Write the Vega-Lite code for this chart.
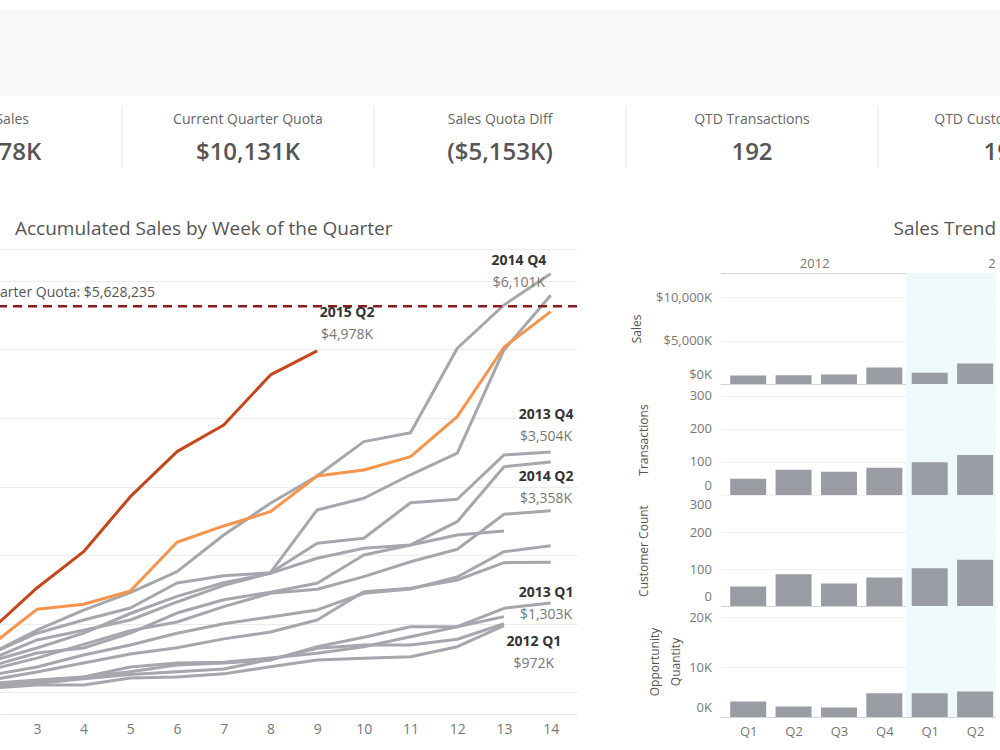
{
  "$schema": "https://vega.github.io/schema/vega-lite/v6.json",
  "padding": {"left": 0, "top": 10, "right": 0, "bottom": 0},
  "background": "white",
  "spacing": 53,
  "resolve": {"scale": {"x": "independent", "y": "independent"}},
  "datasets": {
    "kpis": [
      {"title": "QTD Sales", "value": "$4,978K"},
      {"title": "Current Quarter Quota", "value": "$10,131K"},
      {"title": "Sales Quota Diff", "value": "($5,153K)"},
      {"title": "QTD Transactions", "value": "192"},
      {"title": "QTD Customer Count", "value": "190"}
    ],
    "lines": [
      {"q":"2012 Q1","week":1,"sales":30},{"q":"2012 Q1","week":2,"sales":60},{"q":"2012 Q1","week":3,"sales":108},{"q":"2012 Q1","week":4,"sales":108},{"q":"2012 Q1","week":5,"sales":210},{"q":"2012 Q1","week":6,"sales":225},{"q":"2012 Q1","week":7,"sales":270},{"q":"2012 Q1","week":8,"sales":375},{"q":"2012 Q1","week":9,"sales":472},{"q":"2012 Q1","week":10,"sales":497},{"q":"2012 Q1","week":11,"sales":520},{"q":"2012 Q1","week":12,"sales":666},{"q":"2012 Q1","week":13,"sales":972},
      {"q":"2012 Q2","week":1,"sales":40},{"q":"2012 Q2","week":2,"sales":90},{"q":"2012 Q2","week":3,"sales":130},{"q":"2012 Q2","week":4,"sales":200},{"q":"2012 Q2","week":5,"sales":260},{"q":"2012 Q2","week":6,"sales":300},{"q":"2012 Q2","week":7,"sales":340},{"q":"2012 Q2","week":8,"sales":480},{"q":"2012 Q2","week":9,"sales":643},{"q":"2012 Q2","week":10,"sales":691},{"q":"2012 Q2","week":11,"sales":691},{"q":"2012 Q2","week":12,"sales":774},{"q":"2012 Q2","week":13,"sales":1000},
      {"q":"2012 Q3","week":1,"sales":50},{"q":"2012 Q3","week":2,"sales":100},{"q":"2012 Q3","week":3,"sales":150},{"q":"2012 Q3","week":4,"sales":225},{"q":"2012 Q3","week":5,"sales":370},{"q":"2012 Q3","week":6,"sales":428},{"q":"2012 Q3","week":7,"sales":440},{"q":"2012 Q3","week":8,"sales":500},{"q":"2012 Q3","week":9,"sales":570},{"q":"2012 Q3","week":10,"sales":666},{"q":"2012 Q3","week":11,"sales":812},{"q":"2012 Q3","week":12,"sales":958},{"q":"2012 Q3","week":13,"sales":1104},
      {"q":"2012 Q4","week":1,"sales":80},{"q":"2012 Q4","week":2,"sales":180},{"q":"2012 Q4","week":3,"sales":297},{"q":"2012 Q4","week":4,"sales":428},{"q":"2012 Q4","week":5,"sales":560},{"q":"2012 Q4","week":6,"sales":650},{"q":"2012 Q4","week":7,"sales":780},{"q":"2012 Q4","week":8,"sales":880},{"q":"2012 Q4","week":9,"sales":1055},{"q":"2012 Q4","week":10,"sales":1468},{"q":"2012 Q4","week":11,"sales":1517},{"q":"2012 Q4","week":12,"sales":1638},{"q":"2012 Q4","week":13,"sales":1891},{"q":"2012 Q4","week":14,"sales":1897},
      {"q":"2013 Q1","week":1,"sales":60},{"q":"2013 Q1","week":2,"sales":130},{"q":"2013 Q1","week":3,"sales":180},{"q":"2013 Q1","week":4,"sales":225},{"q":"2013 Q1","week":5,"sales":300},{"q":"2013 Q1","week":6,"sales":400},{"q":"2013 Q1","week":7,"sales":430},{"q":"2013 Q1","week":8,"sales":470},{"q":"2013 Q1","week":9,"sales":666},{"q":"2013 Q1","week":10,"sales":803},{"q":"2013 Q1","week":11,"sales":958},{"q":"2013 Q1","week":12,"sales":958},{"q":"2013 Q1","week":13,"sales":1226},{"q":"2013 Q1","week":14,"sales":1303},
      {"q":"2013 Q2","week":1,"sales":220},{"q":"2013 Q2","week":2,"sales":450},{"q":"2013 Q2","week":3,"sales":647},{"q":"2013 Q2","week":4,"sales":863},{"q":"2013 Q2","week":5,"sales":1150},{"q":"2013 Q2","week":6,"sales":1400},{"q":"2013 Q2","week":7,"sales":1600},{"q":"2013 Q2","week":8,"sales":1735},{"q":"2013 Q2","week":9,"sales":1955},{"q":"2013 Q2","week":10,"sales":2100},{"q":"2013 Q2","week":11,"sales":2149},{"q":"2013 Q2","week":12,"sales":2294},{"q":"2013 Q2","week":13,"sales":2353},
      {"q":"2013 Q3","week":1,"sales":120},{"q":"2013 Q3","week":2,"sales":250},{"q":"2013 Q3","week":3,"sales":370},{"q":"2013 Q3","week":4,"sales":545},{"q":"2013 Q3","week":5,"sales":691},{"q":"2013 Q3","week":6,"sales":863},{"q":"2013 Q3","week":7,"sales":1000},{"q":"2013 Q3","week":8,"sales":1100},{"q":"2013 Q3","week":9,"sales":1202},{"q":"2013 Q3","week":10,"sales":1445},{"q":"2013 Q3","week":11,"sales":1507},{"q":"2013 Q3","week":12,"sales":1682},{"q":"2013 Q3","week":13,"sales":2051},{"q":"2013 Q3","week":14,"sales":2138},
      {"q":"2013 Q4","week":1,"sales":250},{"q":"2013 Q4","week":2,"sales":480},{"q":"2013 Q4","week":3,"sales":764},{"q":"2013 Q4","week":4,"sales":906},{"q":"2013 Q4","week":5,"sales":1055},{"q":"2013 Q4","week":6,"sales":1318},{"q":"2013 Q4","week":7,"sales":1560},{"q":"2013 Q4","week":8,"sales":1740},{"q":"2013 Q4","week":9,"sales":2173},{"q":"2013 Q4","week":10,"sales":2246},{"q":"2013 Q4","week":11,"sales":2765},{"q":"2013 Q4","week":12,"sales":2815},{"q":"2013 Q4","week":13,"sales":3461},{"q":"2013 Q4","week":14,"sales":3504},
      {"q":"2014 Q1","week":1,"sales":150},{"q":"2014 Q1","week":2,"sales":330},{"q":"2014 Q1","week":3,"sales":500},{"q":"2014 Q1","week":4,"sales":700},{"q":"2014 Q1","week":5,"sales":900},{"q":"2014 Q1","week":6,"sales":1026},{"q":"2014 Q1","week":7,"sales":1250},{"q":"2014 Q1","week":8,"sales":1445},{"q":"2014 Q1","week":9,"sales":1503},{"q":"2014 Q1","week":10,"sales":1687},{"q":"2014 Q1","week":11,"sales":1905},{"q":"2014 Q1","week":12,"sales":2086},{"q":"2014 Q1","week":13,"sales":2596},{"q":"2014 Q1","week":14,"sales":2649},
      {"q":"2014 Q2","week":1,"sales":180},{"q":"2014 Q2","week":2,"sales":380},{"q":"2014 Q2","week":3,"sales":574},{"q":"2014 Q2","week":4,"sales":647},{"q":"2014 Q2","week":5,"sales":863},{"q":"2014 Q2","week":6,"sales":1157},{"q":"2014 Q2","week":7,"sales":1350},{"q":"2014 Q2","week":8,"sales":1460},{"q":"2014 Q2","week":9,"sales":1590},{"q":"2014 Q2","week":10,"sales":2003},{"q":"2014 Q2","week":11,"sales":2149},{"q":"2014 Q2","week":12,"sales":2488},{"q":"2014 Q2","week":13,"sales":3290},{"q":"2014 Q2","week":14,"sales":3358},
      {"q":"2014 Q3","week":1,"sales":280},{"q":"2014 Q3","week":2,"sales":560},{"q":"2014 Q3","week":3,"sales":863},{"q":"2014 Q3","week":4,"sales":1055},{"q":"2014 Q3","week":5,"sales":1230},{"q":"2014 Q3","week":6,"sales":1595},{"q":"2014 Q3","week":7,"sales":1700},{"q":"2014 Q3","week":8,"sales":1745},{"q":"2014 Q3","week":9,"sales":2659},{"q":"2014 Q3","week":10,"sales":2830},{"q":"2014 Q3","week":11,"sales":3172},{"q":"2014 Q3","week":12,"sales":3488},{"q":"2014 Q3","week":13,"sales":4991},{"q":"2014 Q3","week":14,"sales":5790},
      {"q":"2014 Q4","week":1,"sales":250},{"q":"2014 Q4","week":2,"sales":560},{"q":"2014 Q4","week":3,"sales":906},{"q":"2014 Q4","week":4,"sales":1200},{"q":"2014 Q4","week":5,"sales":1453},{"q":"2014 Q4","week":6,"sales":1760},{"q":"2014 Q4","week":7,"sales":2294},{"q":"2014 Q4","week":8,"sales":2757},{"q":"2014 Q4","week":9,"sales":3155},{"q":"2014 Q4","week":10,"sales":3655},{"q":"2014 Q4","week":11,"sales":3786},{"q":"2014 Q4","week":12,"sales":5016},{"q":"2014 Q4","week":13,"sales":5647},{"q":"2014 Q4","week":14,"sales":6101},
      {"q":"2015 Q1","week":1,"sales":300},{"q":"2015 Q1","week":2,"sales":677},{"q":"2015 Q1","week":3,"sales":1211},{"q":"2015 Q1","week":4,"sales":1284},{"q":"2015 Q1","week":5,"sales":1478},{"q":"2015 Q1","week":6,"sales":2188},{"q":"2015 Q1","week":7,"sales":2426},{"q":"2015 Q1","week":8,"sales":2634},{"q":"2015 Q1","week":9,"sales":3155},{"q":"2015 Q1","week":10,"sales":3242},{"q":"2015 Q1","week":11,"sales":3436},{"q":"2015 Q1","week":12,"sales":4019},{"q":"2015 Q1","week":13,"sales":5031},{"q":"2015 Q1","week":14,"sales":5550},
      {"q":"2015 Q2","week":1,"sales":400},{"q":"2015 Q2","week":2,"sales":900},{"q":"2015 Q2","week":3,"sales":1522},{"q":"2015 Q2","week":4,"sales":2051},{"q":"2015 Q2","week":5,"sales":2853},{"q":"2015 Q2","week":6,"sales":3509},{"q":"2015 Q2","week":7,"sales":3898},{"q":"2015 Q2","week":8,"sales":4627},{"q":"2015 Q2","week":9,"sales":4978}
    ],
    "labels": [
      {"q": "2014 Q4", "wk": 13.32, "amt": 6121, "total": "$6,101K"},
      {"q": "2015 Q2", "wk": 9.64, "amt": 5370, "total": "$4,978K"},
      {"q": "2013 Q4", "wk": 13.9, "amt": 3883, "total": "$3,504K"},
      {"q": "2014 Q2", "wk": 13.9, "amt": 2980, "total": "$3,358K"},
      {"q": "2013 Q1", "wk": 13.9, "amt": 1287, "total": "$1,303K"},
      {"q": "2012 Q1", "wk": 13.64, "amt": 573, "total": "$972K"}
    ],
    "quota": [{"quota": 5628.235, "label": "Current Quarter Quota: $5,628,235"}],
    "qtr": [
      {"qtr": "2012 Q1", "qi": 0, "year": "2012", "sales": 972, "trans": 49, "cust": 53, "opp": 3090},
      {"qtr": "2012 Q2", "qi": 1, "year": "2012", "sales": 1000, "trans": 76, "cust": 86, "opp": 2090},
      {"qtr": "2012 Q3", "qi": 2, "year": "2012", "sales": 1104, "trans": 70, "cust": 61, "opp": 1890},
      {"qtr": "2012 Q4", "qi": 3, "year": "2012", "sales": 1897, "trans": 82, "cust": 77, "opp": 4740},
      {"qtr": "2013 Q1", "qi": 4, "year": "2013", "sales": 1303, "trans": 99, "cust": 102, "opp": 4740},
      {"qtr": "2013 Q2", "qi": 5, "year": "2013", "sales": 2353, "trans": 121, "cust": 125, "opp": 5080},
      {"qtr": "2013 Q3", "qi": 6, "year": "2013", "sales": null, "trans": null, "cust": null, "opp": null},
      {"qtr": "2013 Q4", "qi": 7, "year": "2013", "sales": null, "trans": null, "cust": null, "opp": null}
    ]
  },
  "vconcat": [
    {
      "spacing": 11,
      "resolve": {"scale": {"x": "independent", "y": "independent"}},
      "vconcat": [
        {
          "width": 1000, "height": 86,
          "view": {"fill": "#f8f8f8", "stroke": null},
          "data": {"values": [{"k": 1}]},
          "mark": {"type": "text", "text": ""},
          "encoding": {}
        },
        {
          "width": 1000, "height": 60,
          "data": {"name": "kpis"},
          "encoding": {
            "x": {"field": "title", "type": "nominal", "sort": null,
                  "scale": {"type": "band", "range": [-130, 1130], "paddingInner": 0, "paddingOuter": 0},
                  "axis": null}
          },
          "layer": [
            {"mark": {"type": "rule", "color": "#e6e6e6", "strokeWidth": 1, "clip": true},
             "encoding": {"x": {"field": "title", "type": "nominal", "sort": null, "bandPosition": 0, "axis": null}}},
            {"mark": {"type": "text", "fontSize": 14, "color": "#666", "dy": -17, "clip": true},
             "encoding": {"text": {"field": "title", "type": "nominal"}}},
            {"mark": {"type": "text", "fontSize": 24, "fontWeight": 600, "color": "#555", "dy": 16, "clip": true},
             "encoding": {"text": {"field": "value", "type": "nominal"}}}
          ]
        }
      ]
    },
    {
      "spacing": 53.5,
      "resolve": {"scale": {"x": "independent", "y": "independent"}},
      "hconcat": [
        {
          "width": 577, "height": 465,
          "title": {"text": "Accumulated Sales by Week of the Quarter", "dx": 15},
          "layer": [
            {
              "data": {"name": "lines"},
              "mark": {"type": "line", "strokeWidth": 3, "clip": true, "strokeJoin": "round"},
              "encoding": {
                "x": {"field": "week", "type": "quantitative",
                      "scale": {"domain": [2.21, 14.563], "nice": false, "zero": false},
                      "axis": {"values": [3,4,5,6,7,8,9,10,11,12,13,14], "title": null, "grid": false, "ticks": false,
                               "domainColor": "#e3e3e3", "labelColor": "#777", "labelFontSize": 14, "labelPadding": 8, "labelFlush": false}},
                "y": {"field": "sales", "type": "quantitative",
                      "scale": {"domain": [-315, 6463], "nice": false, "zero": false},
                      "axis": {"values": [0,1000,2000,3000,4000,5000,6000,6463], "labels": false, "ticks": false, "domain": false,
                               "title": null, "gridColor": "#ececec"}},
                "color": {"field": "q", "type": "nominal", "legend": null,
                          "scale": {"domain": ["2012 Q1","2012 Q2","2012 Q3","2012 Q4","2013 Q1","2013 Q2","2013 Q3","2013 Q4","2014 Q1","2014 Q2","2014 Q3","2014 Q4","2015 Q1","2015 Q2"],
                                    "range": ["#a5a7ad","#a5a7ad","#a5a7ad","#a5a7ad","#a5a7ad","#a5a7ad","#a5a7ad","#a5a7ad","#a5a7ad","#a5a7ad","#a5a7ad","#a5a7ad","#f5944c","#c4461a"]}}
              }
            },
            {
              "data": {"name": "quota"},
              "mark": {"type": "rule", "color": "#8e1b1b", "strokeWidth": 2.5, "strokeDash": [9, 6], "clip": true},
              "encoding": {"y": {"field": "quota", "type": "quantitative"}}
            },
            {
              "data": {"name": "quota"},
              "mark": {"type": "text", "align": "left", "fontSize": 14, "color": "#555", "dy": -13, "clip": true},
              "encoding": {
                "x": {"datum": 0.64},
                "y": {"field": "quota", "type": "quantitative"},
                "text": {"field": "label", "type": "nominal"}
              }
            },
            {
              "data": {"name": "labels"},
              "mark": {"type": "text", "fontSize": 14, "fontWeight": "bold", "color": "#333", "dy": -11},
              "encoding": {
                "x": {"field": "wk", "type": "quantitative"},
                "y": {"field": "amt", "type": "quantitative"},
                "text": {"field": "q", "type": "nominal"}
              }
            },
            {
              "data": {"name": "labels"},
              "mark": {"type": "text", "fontSize": 14, "color": "#777", "dy": 11},
              "encoding": {
                "x": {"field": "wk", "type": "quantitative"},
                "y": {"field": "amt", "type": "quantitative"},
                "text": {"field": "total", "type": "nominal"}
              }
            }
          ]
        },
        {
          "title": {"text": "Sales Trend", "dx": 263},
          "spacing": 0,
          "bounds": "flush",
          "resolve": {"scale": {"x": "independent", "y": "independent"}},
          "vconcat": [
            {
              "width": 275, "height": 24,
              "data": {"name": "qtr"},
              "mark": {"type": "text", "clip": true, "color": "#777", "fontSize": 13, "dy": 3},
              "encoding": {
                "x": {"aggregate": "mean", "field": "qi", "type": "quantitative",
                      "scale": {"domain": [-0.5, 5.339], "nice": false, "zero": false},
                      "axis": {"title": null, "labels": false, "ticks": false, "grid": false, "domainColor": "#d4d4d4"}},
                "text": {"field": "year", "type": "nominal"}
              }
            },
            {
              "width": 275, "height": 111,
              "data": {"name": "qtr"},
              "layer": [
                {"transform": [{"filter": "datum.year == '2013'"}],
                 "mark": {"type": "rule", "color": "#eef9fc", "strokeWidth": 47.2, "clip": true},
                 "encoding": {"x": {"field": "qi", "type": "quantitative"}}},
                {"mark": {"type": "bar", "color": "#9a9ca3", "width": 36, "orient": "vertical", "clip": true},
                 "encoding": {
                   "x": {"field": "qi", "type": "quantitative",
                         "scale": {"domain": [-0.5, 5.339], "nice": false, "zero": false},
                         "axis": {"labels": false, "ticks": false, "grid": false, "title": null, "domainColor": "#d4d4d4"}},
                   "y": {"field": "sales", "type": "quantitative",
                         "scale": {"domain": [0, 12760], "nice": false},
                         "axis": {"values": [0, 5000, 10000], "labelExpr": "'$' + format(datum.value, ',') + 'K'",
                                  "title": "Sales", "titleX": -84, "titleBaseline": "middle", "titleFontWeight": "normal", "titleFontSize": 12, "titleColor": "#555",
                                  "labelColor": "#777", "labelFontSize": 13, "labelPadding": 9, "ticks": false, "domain": false,
                                  "gridColor": "#f0f0f0", "labelFlush": true, "labelFlushOffset": -3}}
                 }}
              ]
            },
            {
              "width": 275, "height": 111,
              "data": {"name": "qtr"},
              "layer": [
                {"transform": [{"filter": "datum.year == '2013'"}],
                 "mark": {"type": "rule", "color": "#eef9fc", "strokeWidth": 47.2, "clip": true},
                 "encoding": {"x": {"field": "qi", "type": "quantitative"}}},
                {"mark": {"type": "bar", "color": "#9a9ca3", "width": 36, "orient": "vertical", "clip": true},
                 "encoding": {
                   "x": {"field": "qi", "type": "quantitative",
                         "scale": {"domain": [-0.5, 5.339], "nice": false, "zero": false},
                         "axis": {"labels": false, "ticks": false, "grid": false, "title": null, "domainColor": "#d4d4d4"}},
                   "y": {"field": "trans", "type": "quantitative",
                         "scale": {"domain": [0, 335], "nice": false},
                         "axis": {"values": [0, 100, 200, 300],
                                  "title": "Transactions", "titleX": -77, "titleBaseline": "middle", "titleFontWeight": "normal", "titleFontSize": 12, "titleColor": "#555",
                                  "labelColor": "#777", "labelFontSize": 13, "labelPadding": 9, "ticks": false, "domain": false,
                                  "gridColor": "#f0f0f0", "labelFlush": true, "labelFlushOffset": -3}}
                 }}
              ]
            },
            {
              "width": 275, "height": 111,
              "data": {"name": "qtr"},
              "layer": [
                {"transform": [{"filter": "datum.year == '2013'"}],
                 "mark": {"type": "rule", "color": "#eef9fc", "strokeWidth": 47.2, "clip": true},
                 "encoding": {"x": {"field": "qi", "type": "quantitative"}}},
                {"mark": {"type": "bar", "color": "#9a9ca3", "width": 36, "orient": "vertical", "clip": true},
                 "encoding": {
                   "x": {"field": "qi", "type": "quantitative",
                         "scale": {"domain": [-0.5, 5.339], "nice": false, "zero": false},
                         "axis": {"labels": false, "ticks": false, "grid": false, "title": null, "domainColor": "#d4d4d4"}},
                   "y": {"field": "cust", "type": "quantitative",
                         "scale": {"domain": [0, 300], "nice": false},
                         "axis": {"values": [0, 100, 200, 300],
                                  "title": "Customer Count", "titleX": -77, "titleBaseline": "middle", "titleFontWeight": "normal", "titleFontSize": 12, "titleColor": "#555",
                                  "labelColor": "#777", "labelFontSize": 13, "labelPadding": 9, "ticks": false, "domain": false,
                                  "gridColor": "#f0f0f0", "labelFlush": true, "labelFlushOffset": -3}}
                 }}
              ]
            },
            {
              "width": 275, "height": 111,
              "data": {"name": "qtr"},
              "layer": [
                {"transform": [{"filter": "datum.year == '2013'"}],
                 "mark": {"type": "rule", "color": "#eef9fc", "strokeWidth": 47.2, "clip": true},
                 "encoding": {"x": {"field": "qi", "type": "quantitative"}}},
                {"mark": {"type": "bar", "color": "#9a9ca3", "width": 36, "orient": "vertical", "clip": true},
                 "encoding": {
                   "x": {"field": "qi", "type": "quantitative",
                         "scale": {"domain": [-0.5, 5.339], "nice": false, "zero": false},
                         "axis": {"values": [0, 1, 2, 3, 4, 5], "labelExpr": "'Q' + (datum.value % 4 + 1)",
                                  "ticks": false, "grid": false, "title": null, "domainColor": "#d4d4d4",
                                  "labelColor": "#777", "labelFontSize": 13, "labelPadding": 8, "labelFlush": false}},
                   "y": {"field": "opp", "type": "quantitative",
                         "scale": {"domain": [0, 22200], "nice": false},
                         "axis": {"values": [0, 10000, 20000], "labelExpr": "format(datum.value / 1000, 'd') + 'K'",
                                  "title": ["Opportunity", "Quantity"], "titleX": -66, "titleBaseline": "middle", "titleLineHeight": 21,
                                  "titleFontWeight": "normal", "titleFontSize": 12, "titleColor": "#555",
                                  "labelColor": "#777", "labelFontSize": 13, "labelPadding": 9, "ticks": false, "domain": false,
                                  "gridColor": "#f0f0f0", "labelFlush": true, "labelFlushOffset": -3}}
                 }}
              ]
            }
          ]
        }
      ]
    }
  ],
  "config": {
    "font": "Open Sans",
    "view": {"stroke": null},
    "axis": {"labelFont": "Open Sans", "titleFont": "Open Sans"},
    "title": {"font": "Open Sans", "fontSize": 19, "fontWeight": "normal", "color": "#555", "anchor": "start", "offset": 10}
  }
}
